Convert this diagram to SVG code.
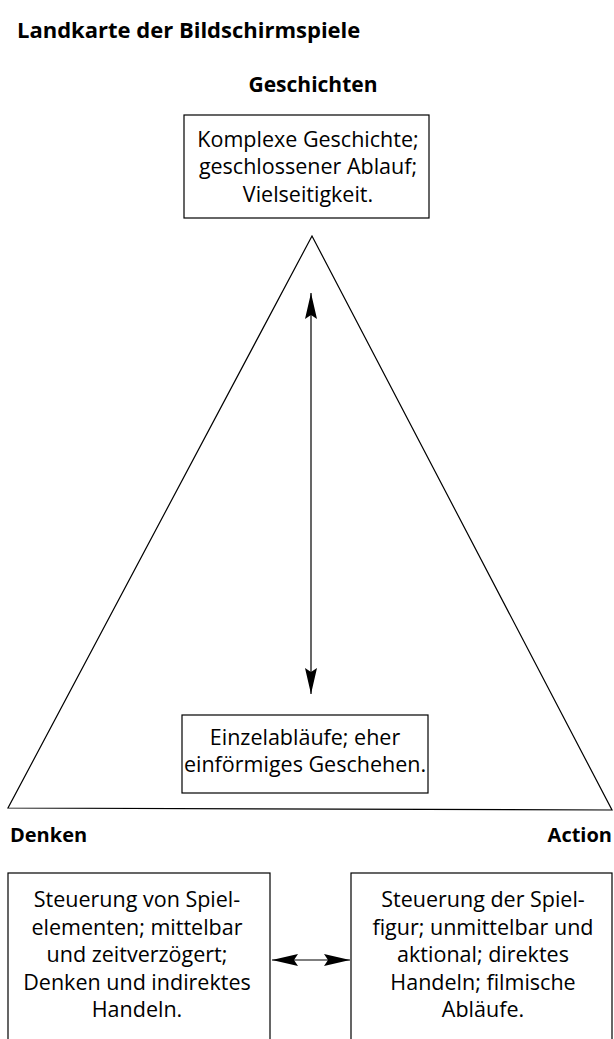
<svg xmlns="http://www.w3.org/2000/svg" width="614" height="1039" viewBox="0 0 614 1039">
<style>
text{font-family:"Open Sans","DejaVu Sans",sans-serif;fill:#000}
.b{font-weight:bold}
.t{font-size:21.5px;text-anchor:middle}
.box{fill:#fff;stroke:#000;stroke-width:1.2}
.ln{stroke:#000;stroke-width:1.2;fill:none}
</style>
<defs>
<marker id="ah" viewBox="0 0 26 12" refX="26" refY="6" markerWidth="26" markerHeight="12" markerUnits="userSpaceOnUse" orient="auto-start-reverse">
<path d="M0,0 L26,6 L0,12 L4,6 Z" fill="#000"/>
</marker>
</defs>
<rect width="614" height="1039" fill="#fff"/>
<g id="title"><text class="b" x="17" y="38" font-size="22">Landkarte der Bildschirmspiele</text></g>
<g id="triangle"><polygon class="ln" points="312,236 8,808 612,810"/></g>
<g id="geschichten-label"><text class="b" x="313" y="92" font-size="21" text-anchor="middle">Geschichten</text></g>
<g id="geschichten">
<rect class="box" x="184" y="115" width="245" height="103"/>
<text class="t" x="308" y="147">Komplexe Geschichte;</text>
<text class="t" x="308" y="174">geschlossener Ablauf;</text>
<text class="t" x="308" y="202">Vielseitigkeit.</text>
</g>
<g id="einzel">
<rect class="box" x="182" y="715" width="246" height="78"/>
<text class="t" x="305" y="745">Einzelabläufe; eher</text>
<text class="t" x="305" y="772">einförmiges Geschehen.</text>
</g>
<g id="denken-label"><text class="b" x="10" y="842" font-size="20">Denken</text></g>
<g id="action-label"><text class="b" x="612" y="842" font-size="20" text-anchor="end">Action</text></g>
<g id="denken">
<rect class="box" x="8" y="873" width="262" height="180"/>
<text class="t" x="137" y="907">Steuerung von Spiel-</text>
<text class="t" x="137" y="935">elementen; mittelbar</text>
<text class="t" x="137" y="962">und zeitverzögert;</text>
<text class="t" x="137" y="990">Denken und indirektes</text>
<text class="t" x="137" y="1017">Handeln.</text>
</g>
<g id="action">
<rect class="box" x="351" y="873" width="261" height="180"/>
<text class="t" x="483" y="907">Steuerung der Spiel-</text>
<text class="t" x="483" y="935">figur; unmittelbar und</text>
<text class="t" x="483" y="962">aktional; direktes</text>
<text class="t" x="483" y="990">Handeln; filmische</text>
<text class="t" x="483" y="1017">Abläufe.</text>
</g>
<g id="connectors">
<line class="ln" x1="311" y1="293" x2="311" y2="694" marker-start="url(#ah)" marker-end="url(#ah)"/>
<line class="ln" x1="272" y1="960" x2="350" y2="960" marker-start="url(#ah)" marker-end="url(#ah)"/>
</g>
</svg>
